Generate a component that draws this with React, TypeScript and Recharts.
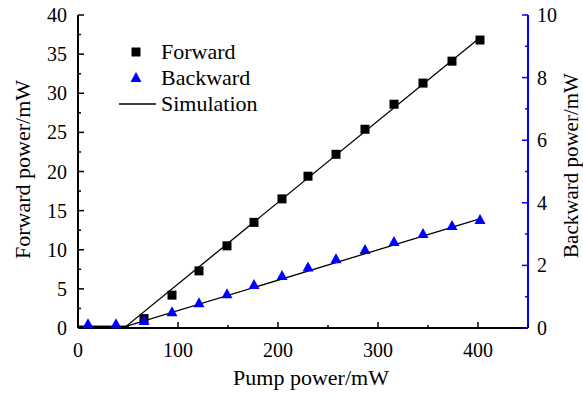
import React from 'react';
import {
  ComposedChart,
  Line,
  Scatter,
  XAxis,
  YAxis,
  Legend,
} from 'recharts';

// measured points
const pumpForward = [66, 94, 121, 149, 176, 204, 230, 258, 287, 316, 345, 374, 402];
const forwardPower = [1.2, 4.2, 7.3, 10.5, 13.5, 16.5, 19.4, 22.2, 25.4, 28.6, 31.3, 34.1, 36.8];

const pumpBackward = [10, 38, 66, 94, 121, 149, 176, 204, 230, 258, 287, 316, 345, 374, 402];
const backwardPower = [0.12, 0.12, 0.22, 0.5, 0.79, 1.08, 1.37, 1.66, 1.93, 2.2, 2.49, 2.75, 3.0, 3.26, 3.45];

// simulation (threshold ~48 mW, linear above)
const simPump = [0, 48, 400];
const simForward = [0.2, 0.2, 36.9];
const simBackward = [0.05, 0.05, 3.47];

// ticks
const xTicks = [0, 50, 100, 150, 200, 250, 300, 350, 400, 450];
const leftTicks = [0, 2.5, 5, 7.5, 10, 12.5, 15, 17.5, 20, 22.5, 25, 27.5, 30, 32.5, 35, 37.5, 40];
const rightTicks = [0, 1, 2, 3, 4, 5, 6, 7, 8, 9, 10];

const FONT = 'Liberation Serif';
const BLUE = '#0000ff';

const fwdData = pumpForward.map((x, i) => ({ x, y: forwardPower[i] }));
const bwdData = pumpBackward.map((x, i) => ({ x, y: backwardPower[i] }));
const simFData = simPump.map((x, i) => ({ x, y: simForward[i] }));
const simBData = simPump.map((x, i) => ({ x, y: simBackward[i] }));

const BottomTick = (props: any) => {
  const { x, y, payload } = props;
  const v = payload.value;
  const major = v % 100 === 0;
  return (
    <g>
      <line x1={x} x2={x} y1={y} y2={y - (major ? 6 : 3)} stroke="#000" strokeWidth={1.5} />
      {major && v <= 400 && (
        <text x={x} y={y + 29} textAnchor="middle" fontFamily={FONT} fontSize={20} fill="#000">
          {v}
        </text>
      )}
    </g>
  );
};

const TopTick = (props: any) => {
  const { x, y, payload } = props;
  const major = payload.value % 100 === 0;
  return <line x1={x} x2={x} y1={y} y2={y + (major ? 6 : 3)} stroke="#000" strokeWidth={1.5} />;
};

const LeftTick = (props: any) => {
  const { x, y, payload } = props;
  const v = payload.value;
  const major = v % 5 === 0;
  return (
    <g>
      <line x1={x} x2={x + (major ? 6 : 3)} y1={y} y2={y} stroke="#000" strokeWidth={1.5} />
      {major && (
        <text x={x - 11} y={y + 7} textAnchor="end" fontFamily={FONT} fontSize={20} fill="#000">
          {v}
        </text>
      )}
    </g>
  );
};

const RightTick = (props: any) => {
  const { x, y, payload } = props;
  const v = payload.value;
  const major = v % 2 === 0;
  return (
    <g>
      <line x1={x} x2={x - (major ? 6 : 3)} y1={y} y2={y} stroke={BLUE} strokeWidth={1.5} />
      {major && (
        <text x={x + 9} y={y + 7} textAnchor="start" fontFamily={FONT} fontSize={20} fill="#000">
          {v}
        </text>
      )}
    </g>
  );
};

const Square = (props: any) => {
  const { cx, cy } = props;
  return <rect x={cx - 4.5} y={cy - 4.5} width={9} height={9} fill="#000" />;
};

const Triangle = (props: any) => {
  const { cx, cy } = props;
  return <polygon points={`${cx},${cy - 6} ${cx - 5.5},${cy + 4} ${cx + 5.5},${cy + 4}`} fill={BLUE} />;
};

const BottomTitle = (props: any) => {
  const vb = props.viewBox;
  return (
    <text x={vb.x + vb.width / 2 + 8} y={vb.y + 57} textAnchor="middle" fontFamily={FONT} fontSize={22} fill="#000">
      Pump power/mW
    </text>
  );
};

const LeftTitle = (props: any) => {
  const vb = props.viewBox;
  const cx = vb.x + 22;
  const cy = vb.y + vb.height / 2 - 2;
  return (
    <text x={cx} y={cy} transform={`rotate(-90, ${cx}, ${cy})`} textAnchor="middle" dominantBaseline="central" fontFamily={FONT} fontSize={22} fill="#000">
      Forward power/mW
    </text>
  );
};

const RightTitle = (props: any) => {
  const vb = props.viewBox;
  const cx = vb.x + 43;
  const cy = vb.y + vb.height / 2 - 6;
  return (
    <text x={cx} y={cy} transform={`rotate(-90, ${cx}, ${cy})`} textAnchor="middle" dominantBaseline="central" fontFamily={FONT} fontSize={21} fill="#000">
      Backward power/mW
    </text>
  );
};

const LegendBox = () => {
  const row = { display: 'flex', alignItems: 'center', height: 26 } as React.CSSProperties;
  const label = { fontFamily: FONT, fontSize: 22, color: '#000', lineHeight: '26px' } as React.CSSProperties;
  return (
    <div>
      <div style={row}>
        <svg width={42} height={26}>
          <rect x={12.5} y={8.5} width={9} height={9} fill="#000" />
        </svg>
        <span style={label}>Forward</span>
      </div>
      <div style={row}>
        <svg width={42} height={26}>
          <polygon points="17,7 11.5,17 22.5,17" fill={BLUE} />
        </svg>
        <span style={label}>Backward</span>
      </div>
      <div style={row}>
        <svg width={42} height={26}>
          <line x1={0} x2={37} y1={13} y2={13} stroke="#000" strokeWidth={1.3} />
        </svg>
        <span style={label}>Simulation</span>
      </div>
    </div>
  );
};

export default function App() {
  return (
    <div style={{ position: 'absolute', left: 0, top: 0, width: 583, height: 397, background: '#fff' }}>
      <ComposedChart width={583} height={397} margin={{ top: 15, right: 0, bottom: 0, left: 0 }}>
        <XAxis
          xAxisId="bottom"
          dataKey="x"
          type="number"
          domain={[0, 450]}
          ticks={xTicks}
          interval={0}
          tickSize={0}
          tickMargin={0}
          tickLine={false}
          tick={<BottomTick />}
          height={69}
          axisLine={{ stroke: '#000', strokeWidth: 2 }}
          label={{ content: <BottomTitle /> }}
        />
        <XAxis
          xAxisId="top"
          orientation="top"
          dataKey="x"
          type="number"
          domain={[0, 450]}
          ticks={xTicks}
          interval={0}
          tickSize={0}
          tickMargin={0}
          tickLine={false}
          tick={<TopTick />}
          height={0}
          axisLine={{ stroke: '#000', strokeWidth: 2 }}
        />
        <YAxis
          yAxisId="left"
          dataKey="y"
          type="number"
          domain={[0, 40]}
          ticks={leftTicks}
          interval={0}
          tickSize={0}
          tickMargin={0}
          tickLine={false}
          tick={<LeftTick />}
          width={78}
          axisLine={{ stroke: '#000', strokeWidth: 2 }}
          label={{ content: <LeftTitle /> }}
        />
        <YAxis
          yAxisId="right"
          orientation="right"
          dataKey="y"
          type="number"
          domain={[0, 10]}
          ticks={rightTicks}
          interval={0}
          tickSize={0}
          tickMargin={0}
          tickLine={false}
          tick={<RightTick />}
          width={55}
          axisLine={{ stroke: BLUE, strokeWidth: 2 }}
          label={{ content: <RightTitle /> }}
        />
        <Legend
          layout="horizontal"
          verticalAlign="middle"
          align="center"
          content={<LegendBox />}
          wrapperStyle={{ left: 119, top: 39, width: 'auto', height: 'auto' }}
        />
        <Line
          data={simFData}
          dataKey="y"
          xAxisId="bottom"
          yAxisId="left"
          type="linear"
          stroke="#000"
          strokeWidth={1.3}
          dot={false}
          isAnimationActive={false}
          legendType="none"
        />
        <Line
          data={simBData}
          dataKey="y"
          xAxisId="bottom"
          yAxisId="right"
          type="linear"
          stroke="#000"
          strokeWidth={1.3}
          dot={false}
          isAnimationActive={false}
          legendType="none"
        />
        <Scatter
          data={fwdData}
          dataKey="y"
          xAxisId="bottom"
          yAxisId="left"
          shape={<Square />}
          isAnimationActive={false}
        />
        <Scatter
          data={bwdData}
          dataKey="y"
          xAxisId="bottom"
          yAxisId="right"
          shape={<Triangle />}
          isAnimationActive={false}
        />
      </ComposedChart>
    </div>
  );
}
